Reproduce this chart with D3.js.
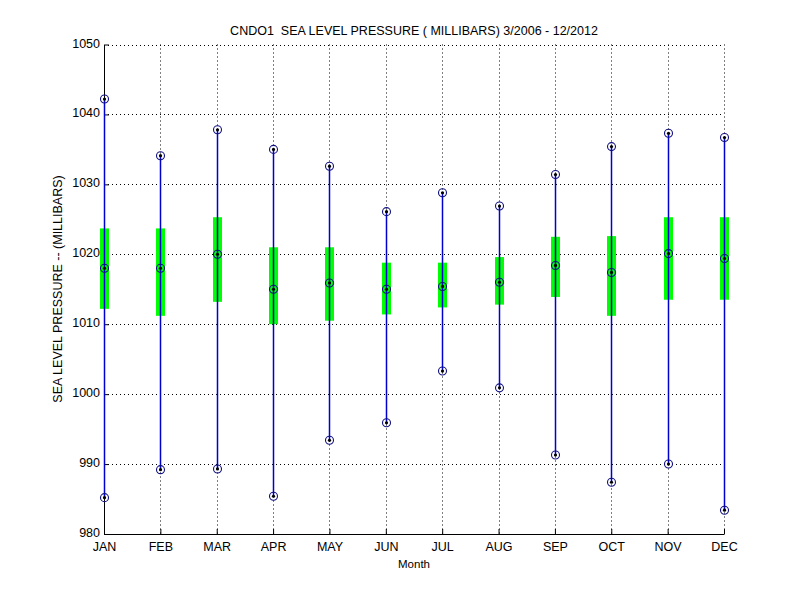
<html>
<head>
  <script src="https://d3js.org/d3.v7.min.js"></script>
  <style>
    body { margin: 0; background: #ffffff; }
    svg { display: block; }
    text { font-family: "Liberation Sans", Arial, sans-serif; fill: #000; white-space: pre; }
  </style>
</head>
<body>
<div id="chart"></div>
<script>
  // data (millibars)
  var months = ["JAN", "FEB", "MAR", "APR", "MAY", "JUN", "JUL", "AUG", "SEP", "OCT", "NOV", "DEC"];
  var maxVals = [1042.2, 1034.1, 1037.8, 1035.0, 1032.6, 1026.1, 1028.8, 1026.9, 1031.4, 1035.4, 1037.3, 1036.7];
  var minVals = [985.2, 989.2, 989.3, 985.4, 993.4, 995.9, 1003.3, 1000.9, 991.3, 987.4, 990.0, 983.4];
  var q3Vals = [1023.7, 1023.7, 1025.3, 1021.0, 1021.0, 1018.8, 1018.8, 1019.6, 1022.5, 1022.6, 1025.3, 1025.3];
  var q1Vals = [1012.2, 1011.2, 1013.2, 1010.0, 1010.5, 1011.4, 1012.4, 1012.8, 1013.9, 1011.2, 1013.5, 1013.5];
  var medVals = [1018.0, 1018.0, 1020.0, 1015.0, 1015.9, 1015.0, 1015.4, 1016.0, 1018.4, 1017.4, 1020.1, 1019.4];
  var yTicks = [980, 990, 1000, 1010, 1020, 1030, 1040, 1050];

  var width = 800, height = 600;
  var plotL = 104, plotR = 724, plotT = 44.5, plotB = 534;

  var svg = d3.select("#chart").append("svg")
    .attr("width", width).attr("height", height);

  var x = d3.scalePoint().domain(months).range([plotL, plotR]);
  var y = d3.scaleLinear().domain([980, 1050]).range([plotB, plotT]);
  function px(m) { return Math.round(x(m)) + 0.5; }

  // dotted grid
  svg.append("g").selectAll("line").data(yTicks.slice(1)).enter().append("line")
    .attr("x1", plotL).attr("x2", plotR)
    .attr("y1", function(d) { return Math.round(y(d)) + 0.5; })
    .attr("y2", function(d) { return Math.round(y(d)) + 0.5; })
    .attr("stroke", "#000").attr("stroke-width", 1).attr("stroke-dasharray", "1,3");
  svg.append("g").selectAll("line").data(months.slice(1)).enter().append("line")
    .attr("x1", px).attr("x2", px)
    .attr("y1", plotT).attr("y2", plotB)
    .attr("stroke", "#000").attr("stroke-width", 1).attr("stroke-dasharray", "1,3");

  // axes (ticks pointing inwards)
  var yAxis = svg.append("g").attr("transform", "translate(" + plotL + ",0)")
    .call(d3.axisLeft(y).tickValues(yTicks).tickFormat(d3.format("d"))
      .tickSizeInner(-5).tickSizeOuter(0).tickPadding(4));
  var xAxis = svg.append("g").attr("transform", "translate(0," + plotB + ")")
    .call(d3.axisBottom(x).tickSizeInner(-5).tickSizeOuter(0).tickPadding(0));
  [yAxis, xAxis].forEach(function(a) {
    a.selectAll("text").style("font-size", "12.5px").style("font-family", "Liberation Sans, Arial, sans-serif");
    a.select(".domain").attr("stroke", "#000");
    a.selectAll(".tick line").attr("stroke", "#000");
  });
  xAxis.selectAll("text").attr("y", 8).attr("dy", "0.71em");
  yAxis.selectAll("text").attr("dy", "0.2em");

  var idx = d3.range(months.length);

  // green boxes (q1..q3)
  svg.append("g").selectAll("rect").data(idx).enter().append("rect")
    .attr("x", function(i) { return px(months[i]) - 4.5; })
    .attr("width", 9)
    .attr("y", function(i) { return y(q3Vals[i]); })
    .attr("height", function(i) { return y(q1Vals[i]) - y(q3Vals[i]); })
    .attr("fill", "#00ff00");

  // whiskers min..max
  svg.append("g").selectAll("line").data(idx).enter().append("line")
    .attr("x1", function(i) { return px(months[i]); })
    .attr("x2", function(i) { return px(months[i]); })
    .attr("y1", function(i) { return y(maxVals[i]); })
    .attr("y2", function(i) { return y(minVals[i]); })
    .attr("stroke", "#0000d0").attr("stroke-width", 1.5);

  // markers at max, min and median
  var pts = [];
  idx.forEach(function(i) {
    pts.push({ m: months[i], v: maxVals[i] });
    pts.push({ m: months[i], v: minVals[i] });
    pts.push({ m: months[i], v: medVals[i] });
  });
  var mk = svg.append("g").selectAll("g").data(pts).enter().append("g")
    .attr("transform", function(d) { return "translate(" + px(d.m) + "," + y(d.v) + ")"; });
  mk.append("circle").attr("r", 4).attr("fill", "none")
    .attr("stroke", "#101080").attr("stroke-width", 1.1);
  mk.append("circle").attr("r", 1.6).attr("fill", "#000");

  // title and labels
  svg.append("text").attr("x", 414).attr("y", 35).attr("text-anchor", "middle")
    .style("font-size", "12.5px").text("CNDO1  SEA LEVEL PRESSURE ( MILLIBARS) 3/2006 - 12/2012");
  svg.append("text").attr("x", 414).attr("y", 568).attr("text-anchor", "middle")
    .style("font-size", "11.5px").text("Month");
  svg.append("text").attr("transform", "translate(62,289) rotate(-90)").attr("text-anchor", "middle")
    .style("font-size", "12.5px").text("SEA LEVEL PRESSURE -- (MILLIBARS)");
</script>
</body>
</html>
